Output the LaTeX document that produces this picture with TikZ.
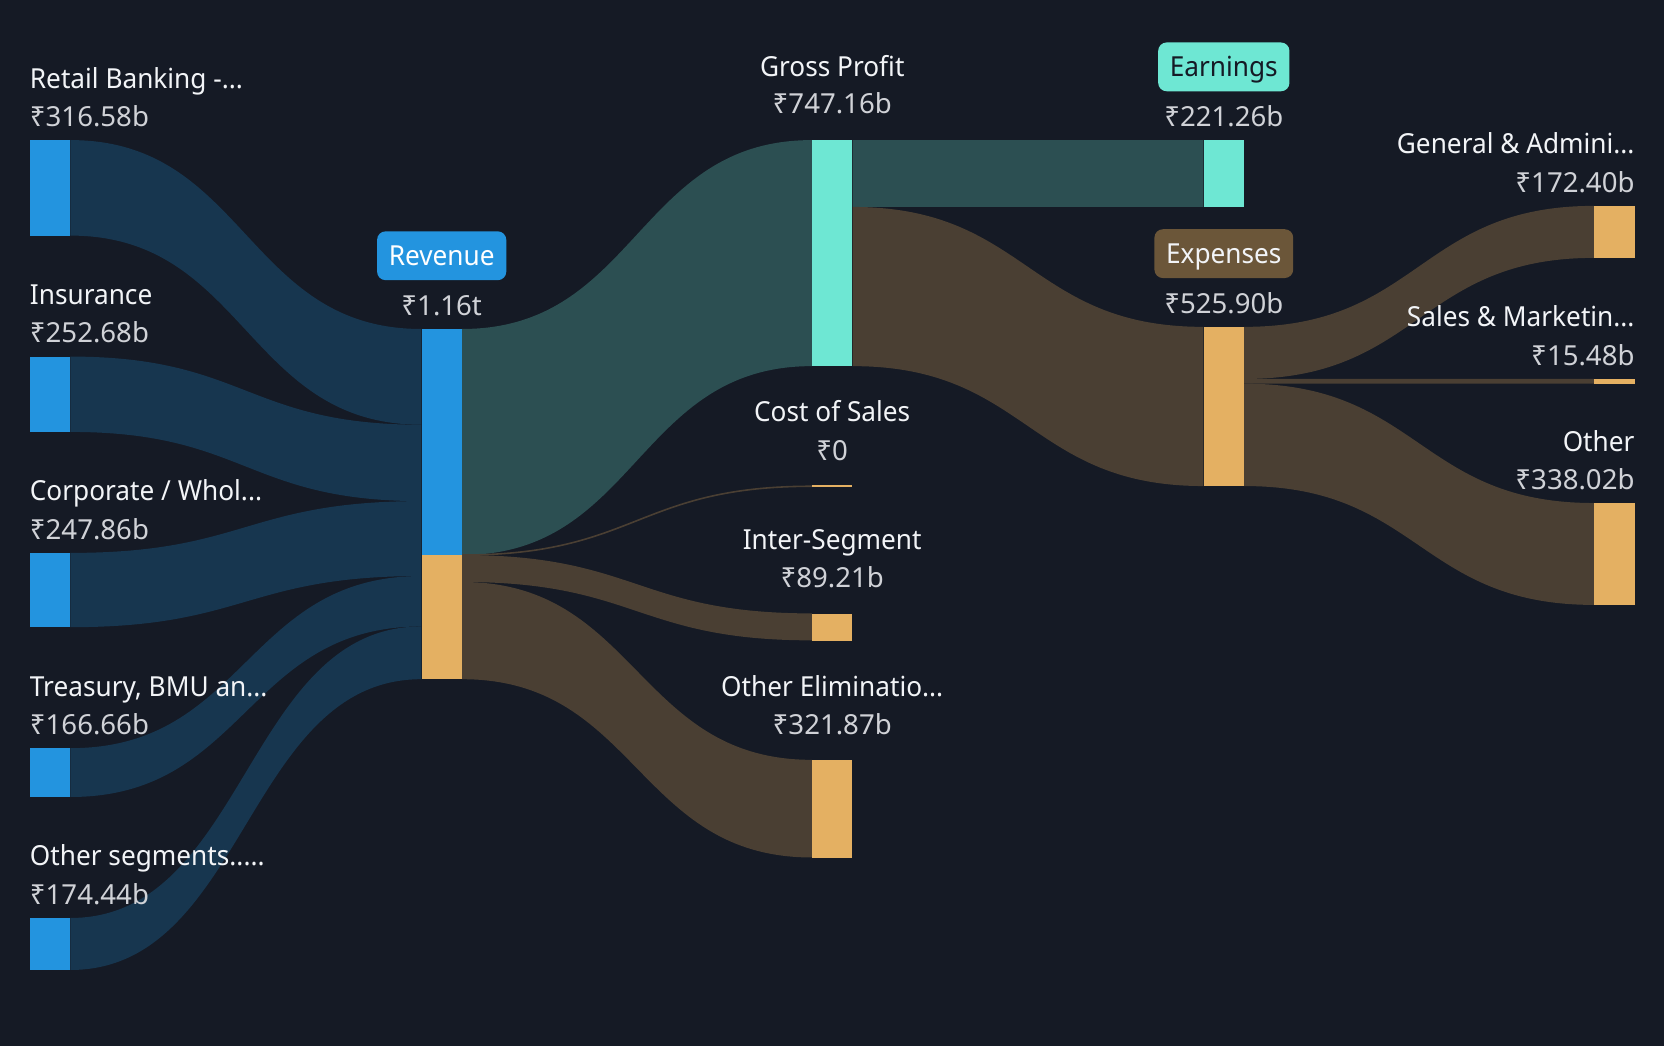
\documentclass[tikz,border=0pt]{standalone}
\usepackage{fontspec}
\setmainfont{Noto Sans}
\newfontfamily\labelfont{Noto Sans}[FakeStretch=0.95]
\usetikzlibrary{positioning}
\definecolor{bg}{HTML}{151A25}
\definecolor{segblue}{HTML}{2394DF}
\definecolor{blueflow}{HTML}{17364F}
\definecolor{profitbar}{HTML}{6EE7D3}
\definecolor{profitflow}{HTML}{2C4F52}
\definecolor{costbar}{HTML}{E4B062}
\definecolor{costflow}{HTML}{4A3F33}
\definecolor{expbox}{HTML}{6B5639}
\definecolor{nametext}{HTML}{F2F4F7}
\definecolor{valtext}{HTML}{D0D2D7}
\tikzset{
    bar/.style={rectangle, inner sep=0pt, minimum width=38pt, anchor=north west},
    segname/.style={text=nametext, font=\labelfont\fontsize{26}{30}\selectfont, inner sep=0pt},
    amount/.style={text=valtext, font=\fontsize{26}{30}\selectfont, inner sep=0pt},
    badge/.style={rounded corners=8pt, inner xsep=11pt, inner ysep=0pt, minimum height=46pt,
        text height=24pt, text depth=5pt, font=\labelfont\fontsize{26}{30}\selectfont}
}
% ribbon from one bar to the next: colour, source, top, bottom, target, top, bottom
\newcommand{\ribbon}[7]{%
  \fill[#1] ([yshift=-#3pt]#2.north east) .. controls +(165,0) and +(-165,0) .. ([yshift=-#6pt]#5.north west)
    -- ([yshift=-#7pt]#5.north west) .. controls +(-165,0) and +(165,0) .. ([yshift=-#4pt]#2.north east) -- cycle;}

\begin{document}
\begin{tikzpicture}[x=1pt, y=-1pt]
\fill[bg] (0,0) rectangle (1568,985.6);
\useasboundingbox (0,0) rectangle (1568,985.6);

% bars
\node[bar, fill=segblue, minimum height=90pt] (retail) at (28,132) {};
\node[bar, fill=segblue, minimum height=71pt] (insur) at (28,336) {};
\node[bar, fill=segblue, minimum height=70pt] (corp) at (28,521) {};
\node[bar, fill=segblue, minimum height=46pt] (treas) at (28,705) {};
\node[bar, fill=segblue, minimum height=49pt] (otherseg) at (28,865) {};
\node[bar, fill=segblue, minimum height=213pt] (rev) at (397,310) {};
\node[bar, fill=costbar, minimum height=117pt] (revx) at (397,523) {};
\node[bar, fill=profitbar, minimum height=213pt] (gp) at (765,132) {};
\node[bar, fill=costbar, minimum height=2pt] (cos) at (765,457) {};
\node[bar, fill=costbar, minimum height=25.4pt] (inter) at (765,578) {};
\node[bar, fill=costbar, minimum height=92pt] (elim) at (765,716) {};
\node[bar, fill=profitbar, minimum height=63pt] (earn) at (1134,132) {};
\node[bar, fill=costbar, minimum height=150pt] (exp) at (1134,308) {};
\node[bar, fill=costbar, minimum height=49pt] (ga) at (1502,194) {};
\node[bar, fill=costbar, minimum height=4.4pt] (sm) at (1502,357) {};
\node[bar, fill=costbar, minimum height=96pt] (oth) at (1502,474) {};

% flows
\ribbon{blueflow}{retail}{0}{90}{rev}{0}{90.2}
\ribbon{blueflow}{insur}{0}{71}{rev}{90.2}{162.2}
\ribbon{blueflow}{corp}{0}{70}{rev}{162.2}{232.8}
\ribbon{blueflow}{treas}{0}{46}{rev}{232.8}{280.3}
\ribbon{blueflow}{otherseg}{0}{49}{rev}{280.3}{330}
\ribbon{profitflow}{rev}{0}{213}{gp}{0}{213}
\draw[costflow, line width=1.5pt] (revx.north east) .. controls +(165,0) and +(-165,0) .. (cos.west);
\ribbon{costflow}{revx}{0}{25.4}{inter}{0}{25.4}
\ribbon{costflow}{revx}{25.4}{117}{elim}{0}{92}
\ribbon{profitflow}{gp}{0}{63}{earn}{0}{63}
\ribbon{costflow}{gp}{63}{213}{exp}{0}{150}
\ribbon{costflow}{exp}{0}{49.1}{ga}{0}{49}
\ribbon{costflow}{exp}{49.1}{53.5}{sm}{0}{4.4}
\ribbon{costflow}{exp}{53.5}{150}{oth}{0}{96}

% labels, left
\node[segname, anchor=base west] at ([yshift=49pt]retail.north west) {Retail Banking -...};
\node[amount, anchor=base west] at ([yshift=13pt]retail.north west) {₹316.58b};
\node[segname, anchor=base west] at ([yshift=49pt]insur.north west) {Insurance};
\node[amount, anchor=base west] at ([yshift=13pt]insur.north west) {₹252.68b};
\node[segname, anchor=base west] at ([yshift=49pt]corp.north west) {Corporate / Whol...};
\node[amount, anchor=base west] at ([yshift=13pt]corp.north west) {₹247.86b};
\node[segname, anchor=base west] at ([yshift=49pt]treas.north west) {Treasury, BMU an...};
\node[amount, anchor=base west] at ([yshift=13pt]treas.north west) {₹166.66b};
\node[segname, anchor=base west] at ([yshift=49pt]otherseg.north west) {Other segments.....};
\node[amount, anchor=base west] at ([yshift=13pt]otherseg.north west) {₹174.44b};

% labels, middle
\node[badge, fill=segblue, text=white] (revtag) at ([yshift=69pt]rev.north) {Revenue};
\node[amount, anchor=base] at ([yshift=12.5pt]rev.north) {₹1.16t};
\node[segname, anchor=base] at ([yshift=60pt]gp.north) {Gross Profit};
\node[amount, anchor=base] at ([yshift=25pt]gp.north) {₹747.16b};
\node[segname, anchor=base] at ([yshift=60pt]cos.north) {Cost of Sales};
\node[amount, anchor=base] at ([yshift=23pt]cos.north) {₹0};
\node[segname, anchor=base] at ([yshift=60pt]inter.north) {Inter-Segment};
\node[amount, anchor=base] at ([yshift=24pt]inter.north) {₹89.21b};
\node[segname, anchor=base] at ([yshift=60pt]elim.north) {Other Eliminatio...};
\node[amount, anchor=base] at ([yshift=24pt]elim.north) {₹321.87b};
\node[badge, fill=profitbar, text=bg] (earntag) at ([yshift=69pt]earn.north) {Earnings};
\node[amount, anchor=base] at ([yshift=12.5pt]earn.north) {₹221.26b};
\node[badge, fill=expbox, text=nametext] (exptag) at ([yshift=69pt]exp.north) {Expenses};
\node[amount, anchor=base] at ([yshift=12.5pt]exp.north) {₹525.90b};

% labels, right
\node[segname, anchor=base east] at ([yshift=49pt]ga.north east) {General \& Admini...};
\node[amount, anchor=base east] at ([yshift=13pt]ga.north east) {₹172.40b};
\node[segname, anchor=base east] at ([yshift=49pt]sm.north east) {Sales \& Marketin...};
\node[amount, anchor=base east] at ([yshift=13pt]sm.north east) {₹15.48b};
\node[segname, anchor=base east] at ([yshift=49pt]oth.north east) {Other};
\node[amount, anchor=base east] at ([yshift=13pt]oth.north east) {₹338.02b};
\end{tikzpicture}
\end{document}
